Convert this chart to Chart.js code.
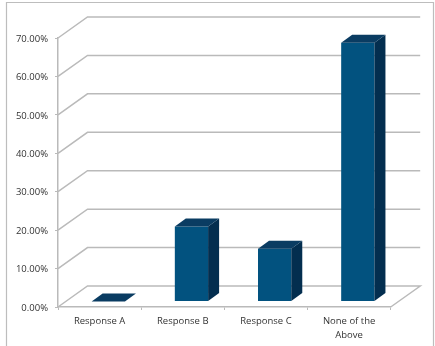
<!DOCTYPE html>
<html>
<head>
<meta charset="utf-8">
<script src="https://cdn.jsdelivr.net/npm/chart.js@4/dist/chart.umd.min.js"></script>
<style>
  html, body { margin: 0; padding: 0; background: #fff; }
  #wrap { position: relative; width: 435px; height: 346px; }
  canvas { position: absolute; left: 0; top: 0; }
</style>
</head>
<body>
<div id="wrap"><canvas id="responseChart" width="435" height="346"></canvas></div>
<script>
const categories = ['Response A', 'Response B', 'Response C', ['None of the', 'Above']];
const responseValues = [0, 19.5, 13.7, 67.3];
const yTicks = [0, 10, 20, 30, 40, 50, 60, 70];

const wallDepth = { x: 29.5, y: -21 };
const barShift = { x: 8.7, y: -5.6 };
const barDepth = { x: 11, y: -8 };

const gridColor = '#bababa';
const frontColor = '#02527f';
const topColor = '#0a3c62';
const sideColor = '#032e4f';
const textColor = '#333333';

function poly(ctx, pts, fill) {
    ctx.beginPath();
    pts.forEach((p, i) => i ? ctx.lineTo(p[0], p[1]) : ctx.moveTo(p[0], p[1]));
    ctx.closePath();
    ctx.fillStyle = fill;
    ctx.fill();
}

// back wall, floor and outer frame
const wallPlugin = {
    id: 'wall',
    beforeDatasetsDraw(chart) {
        const { ctx, chartArea, scales } = chart;
        const { left, right } = chartArea;
        ctx.save();
        ctx.strokeStyle = '#bdbdbd';
        ctx.lineWidth = 1.2;
        ctx.beginPath();
        ctx.moveTo(6.5, 346);
        ctx.lineTo(6.5, 2.5);
        ctx.lineTo(433.5, 2.5);
        ctx.lineTo(433.5, 346);
        ctx.stroke();

        ctx.strokeStyle = gridColor;
        ctx.lineWidth = 1.5;
        yTicks.forEach(v => {
            const y = scales.y.getPixelForValue(v);
            ctx.beginPath();
            ctx.moveTo(left, y);
            ctx.lineTo(left + wallDepth.x, y + wallDepth.y);
            ctx.lineTo(right + wallDepth.x, y + wallDepth.y);
            if (v === 0) ctx.lineTo(right, y);
            ctx.stroke();
        });
        ctx.restore();
    },
    // the bars sit part way into the floor
    beforeDatasetDraw(chart) {
        chart.ctx.save();
        chart.ctx.translate(barShift.x, barShift.y);
    },
    afterDatasetDraw(chart, args) {
        const { ctx } = chart;
        args.meta.data.forEach(bar => {
            const l = bar.x - bar.width / 2;
            const r = bar.x + bar.width / 2;
            const t = bar.y;
            const b = bar.base;
            const dx = barDepth.x;
            const dy = barDepth.y;
            if (b - t > 0.5) {
                poly(ctx, [[r, t], [r + dx, t + dy], [r + dx, b + dy], [r, b]], sideColor);
            }
            poly(ctx, [[l, t], [l + dx, t + dy], [r + dx, t + dy], [r, t]], topColor);
        });
        ctx.restore();
    }
};

new Chart(document.getElementById('responseChart'), {
    type: 'bar',
    data: {
        labels: categories,
        datasets: [{
            data: responseValues,
            backgroundColor: frontColor,
            borderWidth: 0,
            barPercentage: 0.4,
            categoryPercentage: 1
        }]
    },
    options: {
        responsive: false,
        animation: false,
        layout: { padding: { top: 38, right: 44.3, left: 0, bottom: 0 } },
        plugins: { legend: { display: false }, tooltip: { enabled: false } },
        scales: {
            x: {
                afterFit(scale) { scale.height = 39; },
                grid: { drawOnChartArea: false, color: gridColor, tickLength: 3 },
                border: { color: gridColor, width: 1.5 },
                ticks: {
                    color: textColor,
                    font: { family: '"Open Sans"', size: 9.5, lineHeight: 1.47 },
                    maxRotation: 0,
                    autoSkip: false,
                    padding: 4
                }
            },
            y: {
                min: 0,
                max: 70,
                afterFit(scale) { scale.width = 58; },
                afterBuildTicks(scale) { scale.ticks = yTicks.map(value => ({ value })); },
                grid: { drawOnChartArea: false, color: gridColor, tickLength: 3 },
                border: { color: gridColor, width: 1.5 },
                ticks: {
                    color: textColor,
                    font: { family: '"Open Sans"', size: 9.5 },
                    padding: 7,
                    labelOffset: 1,
                    callback: v => v.toFixed(2) + '%'
                }
            }
        }
    },
    plugins: [wallPlugin]
});
</script>
</body>
</html>
